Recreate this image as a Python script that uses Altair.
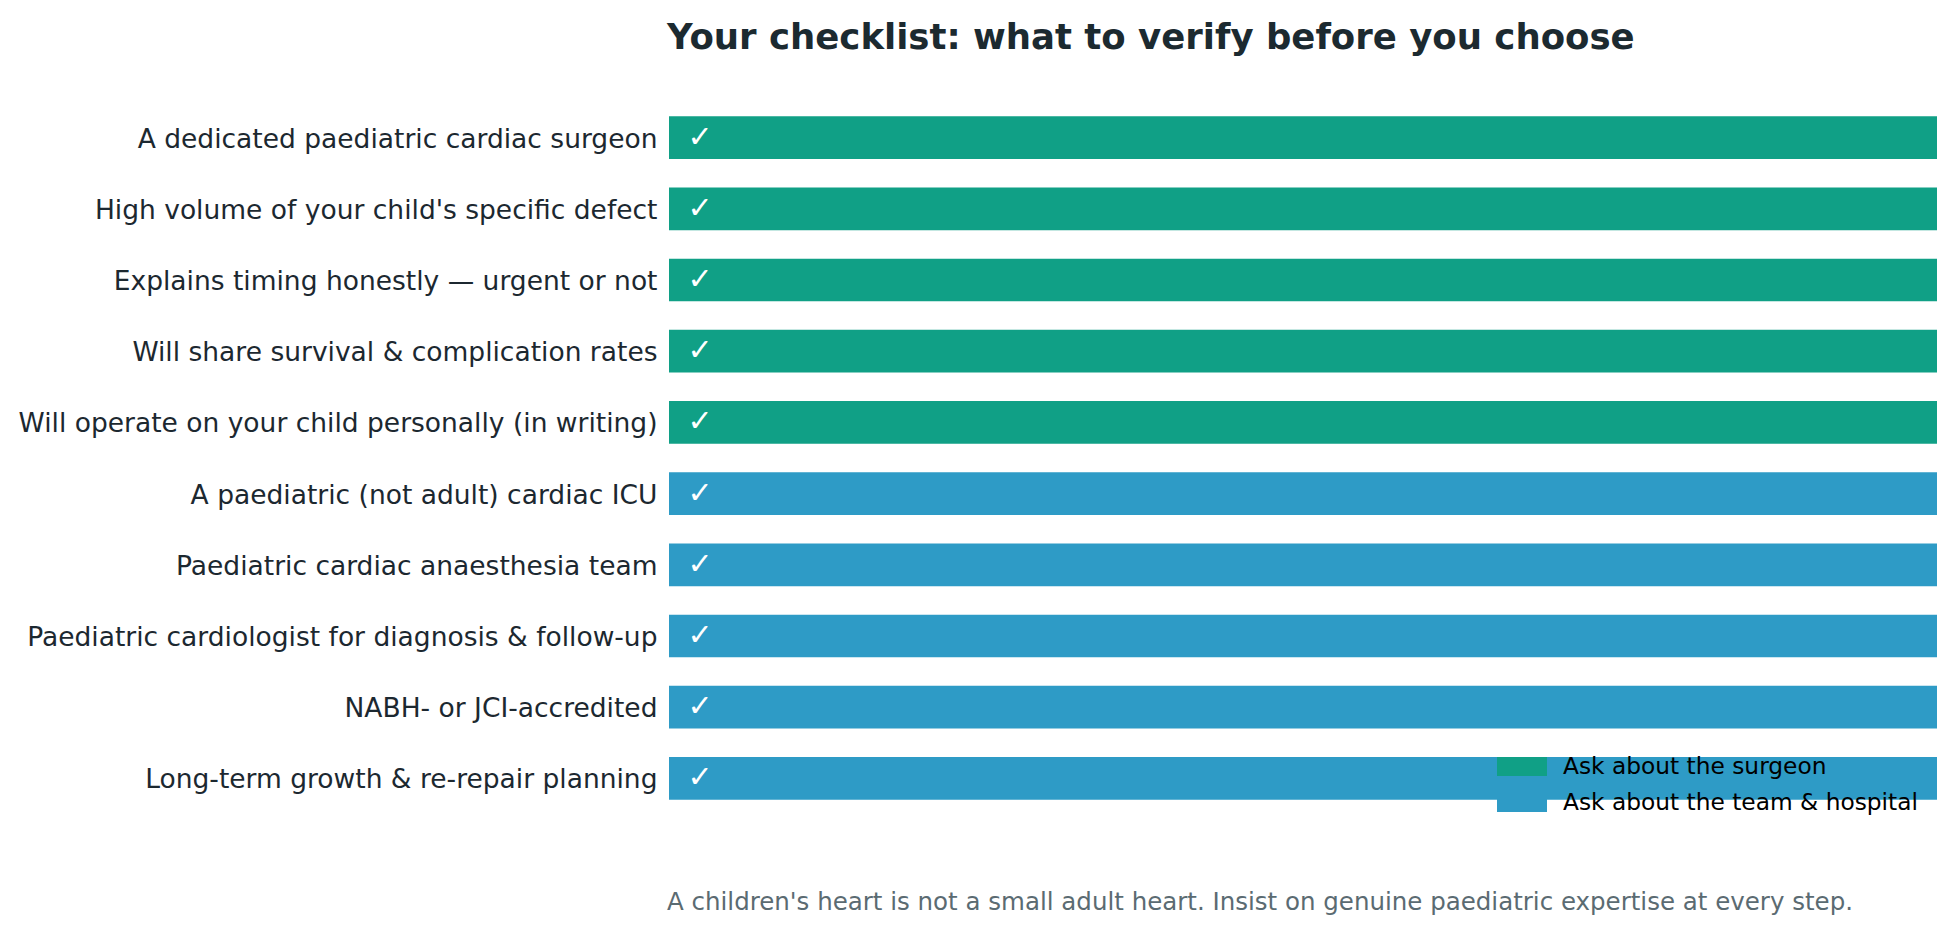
import pandas as pd
import altair as alt

# checklist items, top to bottom
items = [
    "A dedicated paediatric cardiac surgeon",
    "High volume of your child's specific defect",
    "Explains timing honestly \u2014 urgent or not",
    "Will share survival & complication rates",
    "Will operate on your child personally (in writing)",
    "A paediatric (not adult) cardiac ICU",
    "Paediatric cardiac anaesthesia team",
    "Paediatric cardiologist for diagnosis & follow-up",
    "NABH- or JCI-accredited",
    "Long-term growth & re-repair planning",
]
groups = ["Ask about the surgeon"] * 5 + ["Ask about the team & hospital"] * 5
done = [1] * 10
group_names = ["Ask about the surgeon", "Ask about the team & hospital"]
group_colors = ["#10a086", "#2e9bc6"]

df = pd.DataFrame({"item": items, "group": groups, "done": done})

y_enc = alt.Y(
    "item:N",
    sort=items,
    title=None,
    scale=alt.Scale(paddingInner=0.4, paddingOuter=0.2),
    axis=alt.Axis(
        labelFontSize=26.5,
        labelColor="#1c2830",
        labelFont="DejaVu Sans",
        labelPadding=12,
        labelOffset=2,
        labelLimit=0,
        ticks=False,
        domain=False,
        grid=False,
    ),
)

bars = (
    alt.Chart(df)
    .mark_bar()
    .encode(
        x=alt.X("done:Q", scale=alt.Scale(domain=[0, 1], nice=False), axis=None),
        y=y_enc,
        color=alt.Color(
            "group:N",
            scale=alt.Scale(domain=group_names, range=group_colors),
            legend=alt.Legend(
                title=None,
                orient="none",
                legendX=828,
                legendY=655,
                symbolType="M-1,-0.38L1,-0.38L1,0.38L-1,0.38Z",
                symbolSize=2500,
                symbolStrokeWidth=0,
                symbolOpacity=1,
                clipHeight=19,
                rowPadding=12,
                labelOffset=16,
                labelFontSize=23.3,
                labelFont="DejaVu Sans",
                labelColor="#000000",
                labelLimit=0,
            ),
        ),
    )
)

# white check marks near the start of each bar
checks = (
    alt.Chart(df)
    .mark_text(text="\u2713", color="white", fontSize=30, font="DejaVu Sans", dx=31, align="center", baseline="middle")
    .encode(x=alt.datum(0), y=alt.Y("item:N", sort=items))
)

footer = (
    alt.Chart(pd.DataFrame({"t": ["A children's heart is not a small adult heart. Insist on genuine paediatric expertise at every step."]}))
    .mark_text(align="left", baseline="middle", fontSize=24.5, font="DejaVu Sans", color="#5b6b72")
    .encode(text="t:N", x=alt.value(-2), y=alt.value(801))
)

chart = (
    alt.layer(bars, checks, footer)
    .properties(
        width=1268,
        height=712,
        autosize=alt.AutoSizeParams(type="none"),
        padding={"left": 661, "top": 94, "right": 13, "bottom": 105},
        title=alt.TitleParams(
            "Your checklist: what to verify before you choose",
            anchor="start",
            frame="group",
            fontSize=35.5,
            fontWeight="bold",
            font="DejaVu Sans",
            color="#1c2a30",
            baseline="alphabetic",
            offset=18,
            dx=-2,
        ),
    )
    .configure_view(stroke=None)
)

chart.save("out.html", embed_options={"renderer": "svg", "actions": False})
